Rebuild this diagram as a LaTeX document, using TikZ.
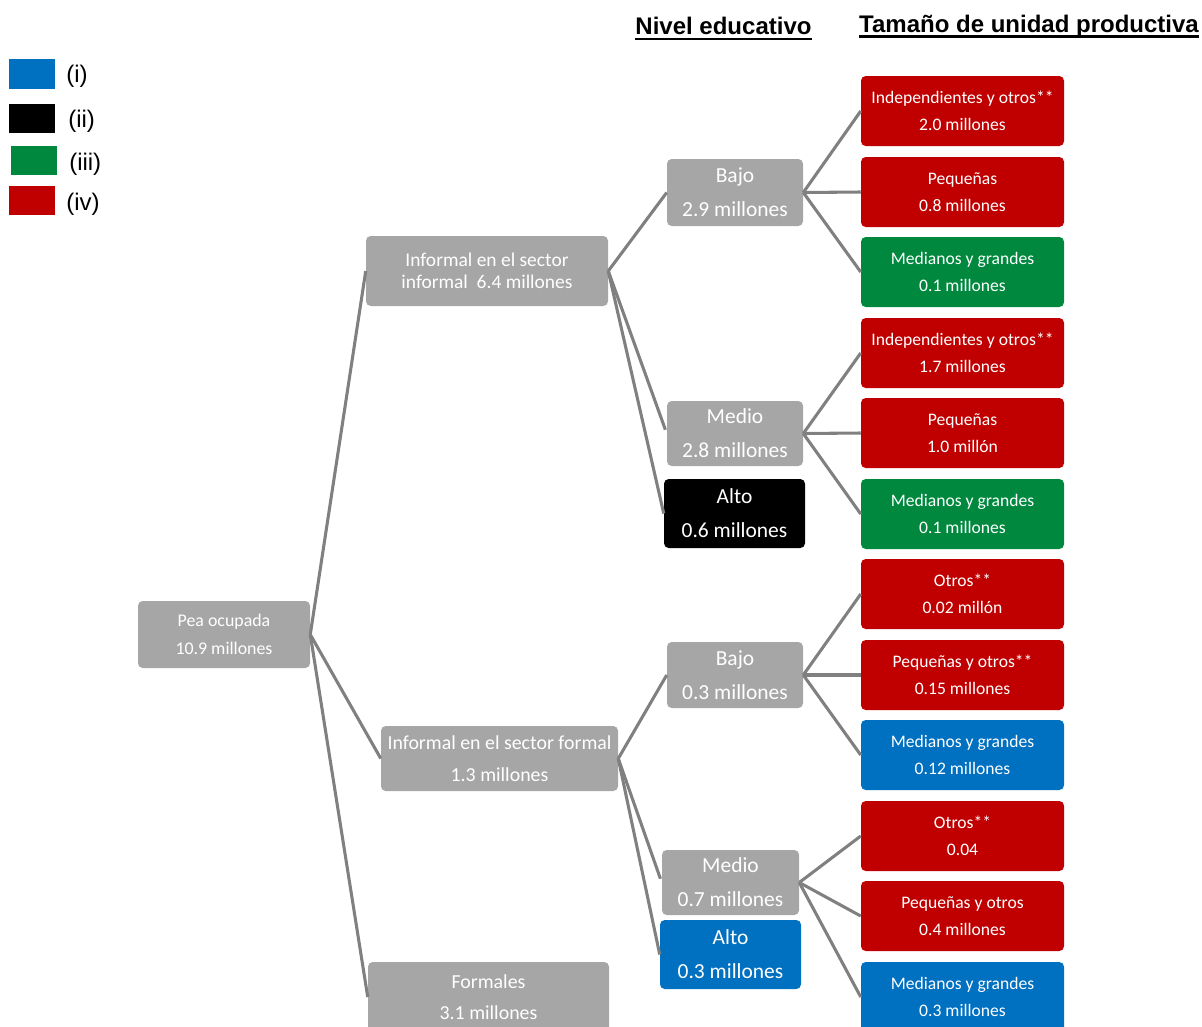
\documentclass[tikz,border=0pt]{standalone}
\usepackage{fontspec}
\setmainfont{Carlito}
\newfontfamily\arialf{Liberation Sans}
\definecolor{nodegray}{HTML}{A6A6A6}
\definecolor{conngray}{HTML}{808080}
\definecolor{cred}{HTML}{C00000}
\definecolor{cgreen}{HTML}{00893E}
\definecolor{cblue}{HTML}{0070C0}
\tikzset{
  base/.style={rounded corners=3.5pt, inner sep=0pt, align=center, text=white},
  graybox/.style={base, fill=nodegray},
  redbox/.style={base, fill=cred},
  greenbox/.style={base, fill=cgreen},
  bluebox/.style={base, fill=cblue},
  blackbox/.style={base, fill=black},
  rbox/.style={minimum width=152.25pt, minimum height=52.5pt, font=\fontsize{13.2}{20.2}\selectfont},
  edbox/.style={font=\fontsize{16.1}{25.5}\selectfont},
  conn/.style={draw=conngray, line width=2.3pt},
  header/.style={inner sep=0pt, font=\arialf\bfseries\fontsize{18}{20}\selectfont},
  legtext/.style={inner sep=0pt, anchor=west, font=\arialf\fontsize{18}{20}\selectfont},
}
\begin{document}
\begin{tikzpicture}[x=0.75pt,y=-0.75pt]
\useasboundingbox (0,0) rectangle (1202,1026);
% legend
\node[fill=cblue, minimum width=34.5pt, minimum height=22.5pt, inner sep=0pt] (leg1) at (32,74) {};
\node[fill=black, minimum width=34.5pt, minimum height=21.75pt, inner sep=0pt] (leg2) at (32,118.5) {};
\node[fill=cgreen, minimum width=34.5pt, minimum height=21.75pt, inner sep=0pt] (leg3) at (34,160.5) {};
\node[fill=cred, minimum width=34.5pt, minimum height=21.75pt, inner sep=0pt] (leg4) at (32,200.5) {};
\node[legtext] (legt1) at (66,76) {(i)};
\node[legtext] (legt2) at (68,121) {(ii)};
\node[legtext] (legt3) at (69,164) {(iii)};
\node[legtext] (legt4) at (66,204) {(iv)};
% headers
\node[header] (h1) at (723.5,26) {Nivel educativo};
\node[header] (h2) at (1029,26) {Tamaño de unidad productiva};
\draw[line width=1.6pt] ([yshift=-3.2pt]h1.base west) -- ([yshift=-3.2pt]h1.base east);
\draw[line width=1.6pt] ([yshift=-3.2pt]h2.base west) -- ([yshift=-3.2pt]h2.base east);
% level 0
\node[graybox, minimum width=129pt, minimum height=50.25pt, font=\fontsize{13.4}{21}\selectfont] (pea) at (224,634.5) {Pea ocupada\\10.9 millones};
% level 1
\node[graybox, minimum width=181.5pt, minimum height=52.5pt, font=\fontsize{14.6}{16.5}\selectfont] (inf1) at (487,271) {Informal en el sector\\informal \ 6.4 millones};
\node[graybox, minimum width=177.75pt, minimum height=48.75pt, font=\fontsize{14.9}{24}\selectfont] (inf2) at (499.5,758.5) {Informal en el sector formal\\1.3 millones};
\node[graybox, minimum width=180.75pt, minimum height=52.5pt, font=\fontsize{14.9}{23.5}\selectfont] (form) at (488.5,997) {Formales\\3.1 millones};
% level 2
\node[graybox, edbox, minimum width=102pt, minimum height=50.25pt] (bajo1) at (735,192.5) {Bajo\\2.9 millones};
\node[graybox, edbox, minimum width=102pt, minimum height=48.75pt] (medio1) at (735,433.5) {Medio\\2.8 millones};
\node[blackbox, edbox, minimum width=105.75pt, minimum height=51.75pt] (alto1) at (734.5,513.5) {Alto\\0.6 millones};
\node[graybox, edbox, minimum width=102pt, minimum height=49.5pt] (bajo2) at (735,675) {Bajo\\0.3 millones};
\node[graybox, edbox, minimum width=102.75pt, minimum height=48.75pt] (medio2) at (730.5,882.5) {Medio\\0.7 millones};
\node[bluebox, edbox, minimum width=105.75pt, minimum height=51.75pt] (alto2) at (730.5,954.5) {Alto\\0.3 millones};
% level 3
\node[redbox, rbox] (r1) at (962.5,111) {Independientes y otros**\\2.0 millones};
\node[redbox, rbox] (r2) at (962.5,192) {Pequeñas\\0.8 millones};
\node[greenbox, rbox] (r3) at (962.5,272) {Medianos y grandes\\0.1 millones};
\node[redbox, rbox] (r4) at (962.5,353) {Independientes y otros**\\1.7 millones};
\node[redbox, rbox] (r5) at (962.5,433) {Pequeñas\\1.0 millón};
\node[greenbox, rbox] (r6) at (962.5,514) {Medianos y grandes\\0.1 millones};
\node[redbox, rbox] (r7) at (962.5,594) {Otros**\\0.02 millón};
\node[redbox, rbox] (r8) at (962.5,675) {Pequeñas y otros**\\0.15 millones};
\node[bluebox, rbox] (r9) at (962.5,755) {Medianos y grandes\\0.12 millones};
\node[redbox, rbox] (r10) at (962.5,836) {Otros**\\0.04};
\node[redbox, rbox] (r11) at (962.5,916) {Pequeñas y otros\\0.4 millones};
\node[bluebox, rbox] (r12) at (962.5,997) {Medianos y grandes\\0.3 millones};
% connectors
\draw[conn] (pea.east) -- (inf1.west);
\draw[conn] (pea.east) -- (inf2.west);
\draw[conn] (pea.east) -- (form.west);
\draw[conn] (inf1.east) -- (bajo1.west);
\draw[conn, shorten >=3pt] (inf1.east) -- (medio1.west);
\draw[conn] (inf1.east) -- (alto1.west);
\draw[conn] (inf2.east) -- (bajo2.west);
\draw[conn, shorten >=3pt] (inf2.east) -- (medio2.west);
\draw[conn] (inf2.east) -- (alto2.west);
\draw[conn] (bajo1.east) -- (r1.west);
\draw[conn] (bajo1.east) -- (r2.west);
\draw[conn] (bajo1.east) -- (r3.west);
\draw[conn] (medio1.east) -- (r4.west);
\draw[conn] (medio1.east) -- (r5.west);
\draw[conn] (medio1.east) -- (r6.west);
\draw[conn] (bajo2.east) -- (r7.west);
\draw[conn] (bajo2.east) -- (r8.west);
\draw[conn] (bajo2.east) -- (r9.west);
\draw[conn] (medio2.east) -- (r10.west);
\draw[conn] (medio2.east) -- (r11.west);
\draw[conn] (medio2.east) -- (r12.west);
\end{tikzpicture}
\end{document}
